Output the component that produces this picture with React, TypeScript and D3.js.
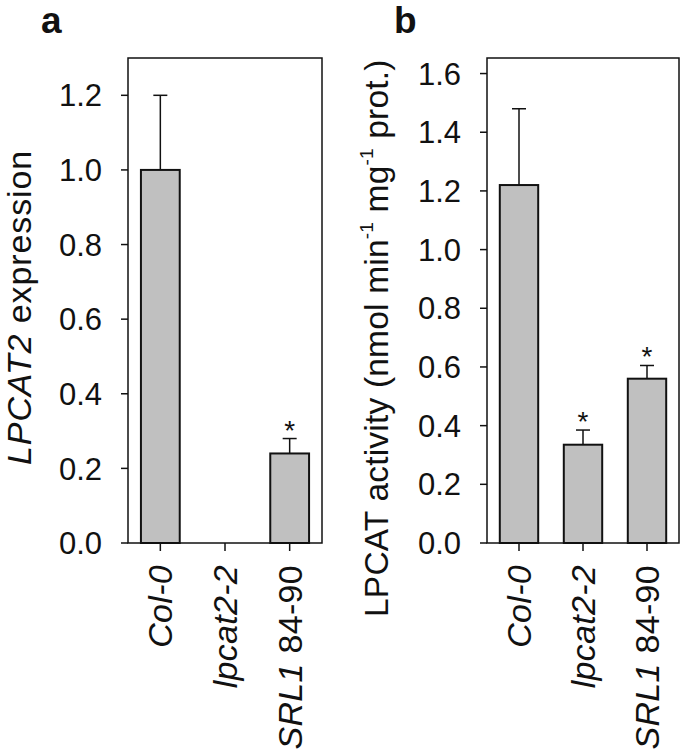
import React from "react";
import * as d3 from "d3";

const categories = ["Col-0", "lpcat2-2", "SRL1 84-90"];
const expressionValues = [1.0, 0, 0.24];
const expressionErrors = [0.2, 0, 0.04];
const expressionSignif = [false, false, true];
const expressionTicks = [0, 0.2, 0.4, 0.6, 0.8, 1.0, 1.2];

const activityValues = [1.22, 0.335, 0.56];
const activityErrors = [0.26, 0.05, 0.045];
const activitySignif = [false, true, true];
const activityTicks = [0, 0.2, 0.4, 0.6, 0.8, 1.0, 1.2, 1.4, 1.6];

const FONT = "'Liberation Sans', Arial, Helvetica, sans-serif";
const TOP = 58;
const BOTTOM = 543;

function CatLabel({ name }: { name: string }) {
  if (name === "SRL1 84-90") {
    return (
      <>
        <tspan fontStyle="italic">SRL1</tspan>
        <tspan> 84-90</tspan>
      </>
    );
  }
  return <tspan fontStyle="italic">{name}</tspan>;
}

function Panel({
  left,
  right,
  maxY,
  values,
  errors,
  signif,
  ticks,
  letter,
  letterX,
  yLabel,
  yLabelX,
  yLabelStart,
  yLabelSize,
  yLabelSpacing,
}: {
  left: number;
  right: number;
  maxY: number;
  values: number[];
  errors: number[];
  signif: boolean[];
  ticks: number[];
  letter: string;
  letterX: number;
  yLabel: React.ReactNode;
  yLabelX: number;
  yLabelStart: number;
  yLabelSize: number;
  yLabelSpacing: number;
}) {
  const y = d3.scaleLinear().domain([0, maxY]).range([BOTTOM, TOP]);
  const x = d3
    .scaleBand<string>()
    .domain(categories)
    .range([left, right])
    .paddingInner(0.4)
    .paddingOuter(0.2);
  const bw = x.bandwidth();
  const cap = 14;
  return (
    <g fontFamily={FONT}>
      <text x={letterX} y={33} fontSize={37} fontWeight="bold" fill="#111">
        {letter}
      </text>
      {categories.map((c, i) => {
        const v = values[i];
        if (v <= 0) return null;
        const cx = (x(c) as number) + bw / 2;
        const yTop = y(v);
        const yErr = y(v + errors[i]);
        return (
          <g key={c}>
            <line x1={cx} x2={cx} y1={yTop} y2={yErr} stroke="#111" strokeWidth={1.5} />
            <line x1={cx - cap / 2} x2={cx + cap / 2} y1={yErr} y2={yErr} stroke="#111" strokeWidth={1.5} />
            <rect
              x={x(c) as number}
              y={yTop}
              width={bw}
              height={BOTTOM - yTop}
              fill="#c0c0c0"
              stroke="#111"
              strokeWidth={2}
            />
            {signif[i] && (
              <text x={cx} y={yErr + 1} fontSize={28} textAnchor="middle" fill="#111">
                *
              </text>
            )}
          </g>
        );
      })}
      <rect x={left} y={TOP} width={right - left} height={BOTTOM - TOP} fill="none" stroke="#111" strokeWidth={1.5} />
      {ticks.map((t) => (
        <g key={t}>
          <line x1={left - 7} x2={left} y1={y(t)} y2={y(t)} stroke="#111" strokeWidth={1.5} />
          <text x={left - 26} y={y(t)} dy="0.36em" fontSize={31} textAnchor="end" fill="#111">
            {t.toFixed(1)}
          </text>
        </g>
      ))}
      {categories.map((c) => {
        const cx = (x(c) as number) + bw / 2;
        return (
          <g key={c}>
            <line x1={cx} x2={cx} y1={BOTTOM} y2={BOTTOM + 8} stroke="#111" strokeWidth={1.5} />
            <text
              transform={`translate(${cx + 12},565) rotate(-90)`}
              fontSize={34}
              letterSpacing={0.3}
              textAnchor="end"
              fill="#111"
            >
              <CatLabel name={c} />
            </text>
          </g>
        );
      })}
      <text
        transform={`translate(${yLabelX},${yLabelStart}) rotate(-90)`}
        fontSize={yLabelSize}
        letterSpacing={yLabelSpacing}
        textAnchor="start"
        fill="#111"
      >
        {yLabel}
      </text>
    </g>
  );
}

export default function App() {
  return (
    <svg
      width={685}
      height={750}
      style={{ position: "absolute", left: 0, top: 0, background: "#fff" }}
    >
      <rect width={685} height={750} fill="#fff" />
      <Panel
        left={128}
        right={322}
        maxY={1.3}
        values={expressionValues}
        errors={expressionErrors}
        signif={expressionSignif}
        ticks={expressionTicks}
        letter="a"
        letterX={41}
        yLabelX={31}
        yLabelStart={465}
        yLabelSize={34}
        yLabelSpacing={0.9}
        yLabel={
          <>
            <tspan fontStyle="italic">LPCAT2</tspan>
            <tspan> expression</tspan>
          </>
        }
      />
      <Panel
        left={487}
        right={679}
        maxY={1.653}
        values={activityValues}
        errors={activityErrors}
        signif={activitySignif}
        ticks={activityTicks}
        letter="b"
        letterX={394}
        yLabelX={388}
        yLabelStart={617}
        yLabelSize={33.5}
        yLabelSpacing={0.2}
        yLabel={
          <>
            <tspan>LPCAT activity (nmol min</tspan>
            <tspan fontSize={19} dy={-15}>-1</tspan>
            <tspan dy={15}> mg</tspan>
            <tspan fontSize={19} dy={-15}>-1</tspan>
            <tspan dy={15}> prot.)</tspan>
          </>
        }
      />
    </svg>
  );
}
